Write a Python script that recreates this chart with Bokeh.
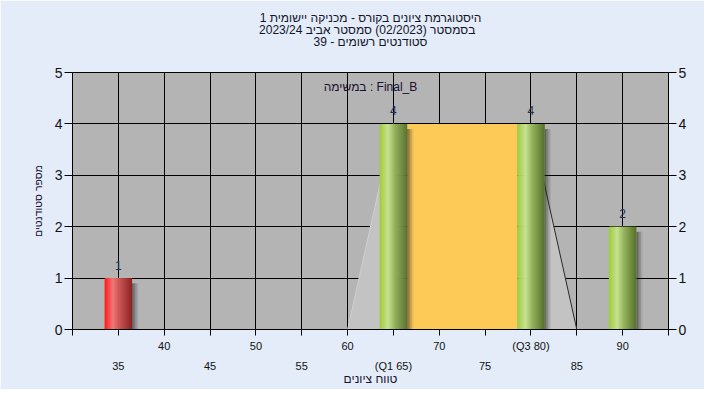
import numpy as np
from bokeh.plotting import figure
from bokeh.models import LinearAxis, FixedTicker, Range1d, Label, Title
from bokeh.embed import file_html
from bokeh.resources import INLINE
from bokeh.core.properties import value

# ---------------- data ----------------
title_lines = ["היסטוגרמת ציונים בקורס - מכניקה יישומית 1",
               "בסמסטר  (02/2023)  סמסטר אביב 2023/24",
               "סטודנטים רשומים - 39"]
task_label = "במשימה : Final_B"
x_label = "טווח ציונים"
y_label = "מספר סטודנטים"

scores = [35, 65, 80, 90]
counts = [1, 4, 4, 2]
failing = [True, False, False, False]
q1, q3 = 65, 80
whisker_lo, whisker_hi = 60, 85
box_height = 4

x_ticks = list(range(30, 100, 5))
upper_row = {40: "40", 50: "50", 60: "60", 70: "70", 80: "(Q3 80)", 90: "90"}
lower_row = {35: "35", 45: "45", 55: "55", 65: "(Q1 65)", 75: "75", 85: "85"}
y_ticks = [0, 1, 2, 3, 4, 5]

# ---------------- styling ----------------
FONT = "Liberation Sans"
XMIN, XMAX, YMIN, YMAX = 30, 95, 0, 5
BAR_W = 3.0

def dx(px):
    return XMIN + (px - 72) * (XMAX - XMIN) / (668 - 72)

def dy(py):
    return YMIN + (329 - py) * (YMAX - YMIN) / (329 - 72)

p = figure(width=704, height=389, x_range=Range1d(XMIN, XMAX), y_range=Range1d(YMIN, YMAX),
           output_backend="svg", toolbar_location=None, title_location=None,
           min_border_left=72, min_border_right=36, min_border_top=72, min_border_bottom=60)
p.background_fill_color = "#b4b4b4"
p.border_fill_color = "#e3ecf8"
p.outline_line_color = "black"

# titles, innermost first (a blank spacer keeps them clear of the frame)
p.add_layout(Title(text=" ", text_font_size="12px", standoff=10), "above")
for line in reversed(title_lines):
    p.add_layout(Title(text=line, align="center", text_font=FONT, text_font_size="12px",
                       text_font_style="normal", text_color="#14142a", standoff=-4), "above")

# axes
xa = p.xaxis[0]
xa.ticker = FixedTicker(ticks=x_ticks)
xa.major_label_overrides = {t: upper_row.get(t, "") for t in x_ticks}
xa.major_tick_out = 6
xa.major_tick_in = 0
xa.minor_tick_line_color = None
xa.major_label_standoff = 4
xa.axis_line_color = "black"
xa.major_tick_line_color = "black"
xa.major_label_text_font = FONT
xa.major_label_text_font_size = "11px"
xa.major_label_text_color = "#111111"

xb = LinearAxis(ticker=FixedTicker(ticks=x_ticks),
                major_label_overrides={t: lower_row.get(t, "") for t in x_ticks})
xb.axis_line_color = None
xb.major_tick_line_color = None
xb.minor_tick_line_color = None
xb.major_tick_out = 0
xb.major_label_standoff = 5
xb.major_label_text_font = FONT
xb.major_label_text_font_size = "11px"
xb.major_label_text_color = "#111111"
xb.axis_label = x_label
xb.axis_label_text_font = FONT
xb.axis_label_text_font_size = "12px"
xb.axis_label_text_font_style = "normal"
xb.axis_label_text_color = "#1a1030"
xb.axis_label_standoff = -3
p.add_layout(xb, "below")

ya = p.yaxis[0]
yr = LinearAxis()
p.add_layout(yr, "right")
for ax in (ya, yr):
    ax.ticker = FixedTicker(ticks=y_ticks)
    ax.major_tick_out = 8
    ax.major_tick_in = 0
    ax.minor_tick_line_color = None
    ax.major_label_standoff = 2
    ax.axis_line_color = "black"
    ax.major_tick_line_color = "black"
    ax.major_label_text_font = FONT
    ax.major_label_text_font_size = "14px"
    ax.major_label_text_color = "#111111"
ya.axis_label = y_label
ya.axis_label_text_font = FONT
ya.axis_label_text_font_size = "10.5px"
ya.axis_label_text_font_style = "normal"
ya.axis_label_text_color = "#1a1030"
ya.axis_label_standoff = 8

for g in (p.xgrid[0], p.ygrid[0]):
    g.grid_line_color = "black"
    g.grid_line_alpha = 1.0
    g.grid_line_width = 1

# whisker triangles
p.patch([whisker_lo, q1, q1], [0, box_height, 0], fill_color="#c3c3c3",
        line_color="#cfcfcf", line_width=1)
p.patch([q3, q3, whisker_hi], [0, box_height, 0], fill_color="#c3c3c3",
        line_color=None)
p.line([q3, whisker_hi], [box_height, 0], line_color="#2a2a2a", line_width=1)

# IQR box
p.quad(left=[q1 + BAR_W / 2], right=[q3 - BAR_W / 2], bottom=[0], top=[box_height],
       fill_color="#fdca58", line_color=None)

# bar shadows
sh_w = 0.17
for k, a in enumerate([0.55, 0.38, 0.22, 0.09]):
    p.quad(left=[s + BAR_W / 2 + k * sh_w for s in scores],
           right=[s + BAR_W / 2 + (k + 1) * sh_w for s in scores],
           bottom=[0] * len(scores), top=[c - 0.1 for c in counts],
           fill_color="#202020", fill_alpha=a, line_color=None)

# cylinder bars
def hexrgb(h):
    return tuple(int(h[i:i + 2], 16) for i in (1, 3, 5))

def interp(stops, t):
    for (t0, c0), (t1, c1) in zip(stops[:-1], stops[1:]):
        if t0 <= t <= t1:
            f = (t - t0) / (t1 - t0) if t1 > t0 else 0
            r = [int(round(c0[i] + (c1[i] - c0[i]) * f)) for i in range(3)]
            return "#%02x%02x%02x" % tuple(r)
    return "#%02x%02x%02x" % stops[-1][1]

green_stops = [(0.0, hexrgb("#9dcc3a")), (0.3, hexrgb("#c8e290")),
               (0.55, hexrgb("#94b25c")), (1.0, hexrgb("#55702a"))]
red_stops = [(0.0, hexrgb("#ff1818")), (0.3, hexrgb("#f07878")),
             (0.6, hexrgb("#c44a4a")), (1.0, hexrgb("#8a1c1c"))]

N = 28
L, R, T, B, C = [], [], [], [], []
for s, c, f in zip(scores, counts, failing):
    stops = red_stops if f else green_stops
    step = BAR_W / N
    for i in range(N):
        L.append(s - BAR_W / 2 + i * step)
        R.append(min(s - BAR_W / 2 + (i + 1.6) * step, s + BAR_W / 2))
        B.append(0)
        T.append(c)
        C.append(interp(stops, (i + 0.5) / N))
p.quad(left=L, right=R, bottom=B, top=T, fill_color=C, line_color=None)

# value labels
p.text(x=scores, y=counts, text=[str(c) for c in counts], text_align="center",
       text_baseline="alphabetic", y_offset=-13, text_font=value(FONT),
       text_font_size="12px", text_color="#1f3050")

# task label
p.add_layout(Label(x=dx(370), y=dy(86), text=task_label, text_align="center",
                   text_baseline="middle", text_font=FONT, text_font_size="12px",
                   text_color="#1a1030"))

open("out.html", "w").write(file_html(p, INLINE))
